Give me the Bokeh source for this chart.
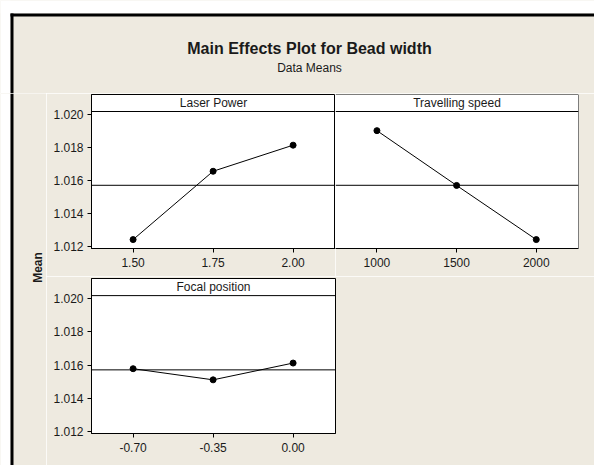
import numpy as np
from bokeh.plotting import figure
from bokeh.models import Range1d, FixedTicker, Span, ColumnDataSource
from bokeh.layouts import column, row
from bokeh.core.properties import value
from bokeh.embed import file_html
from bokeh.resources import INLINE

# ---------------- data ----------------
title_text = "Main Effects Plot for Bead width"
subtitle_text = "Data Means"
y_label = "Mean"
factors = ["Laser Power", "Travelling speed", "Focal position"]
laser_levels = ["1.50", "1.75", "2.00"]
laser_means = [1.01242, 1.01656, 1.01814]
speed_levels = ["1000", "1500", "2000"]
speed_means = [1.01902, 1.01570, 1.01242]
focal_levels = ["-0.70", "-0.35", "0.00"]
focal_means = [1.01578, 1.01511, 1.01612]
grand_mean = 1.01571
y_ticks = [1.012, 1.014, 1.016, 1.018, 1.020]

# ---------------- styling ----------------
BEIGE = "#EEEAE0"
FONT = "Liberation Sans"
TXT = "#1a1a1a"
Y_LO, Y_HI = 1.01188, 1.02121
STRIP_Y = 1.02018
X_LO, X_HI = 0.48, 3.53


def panel(width, height, levels, means, name, show_y, mb_left, mb_right, mb_top, mb_bottom):
    p = figure(width=width, height=height, output_backend="svg", toolbar_location=None,
               x_range=Range1d(X_LO, X_HI), y_range=Range1d(Y_LO, Y_HI),
               y_axis_location="left" if show_y else None,
               min_border_left=mb_left, min_border_right=mb_right,
               min_border_top=mb_top, min_border_bottom=mb_bottom)
    p.background_fill_color = "white"
    p.border_fill_color = BEIGE
    p.outline_line_width = 1
    if show_y:
        p.outline_line_color = "black"
    else:
        # shares its left edge with the neighbouring panel: draw only top and right edges
        p.outline_line_color = None
        p.add_layout(Span(location=Y_HI, dimension="width", line_color="black", line_width=1))
        p.add_layout(Span(location=X_HI, dimension="height", line_color="black", line_width=1))
    p.xgrid.visible = False
    p.ygrid.visible = False
    pos = list(range(1, len(levels) + 1))
    xa = p.xaxis[0]
    xa.ticker = FixedTicker(ticks=pos)
    xa.major_label_overrides = {i: lab for i, lab in zip(pos, levels)}
    xa.minor_tick_line_color = None
    xa.major_tick_in = 0
    xa.major_tick_out = 4
    xa.major_label_standoff = 5
    xa.axis_line_color = "black"
    xa.major_label_text_font = FONT
    xa.major_label_text_font_size = "12px"
    xa.major_label_text_color = TXT
    if show_y:
        ya = p.yaxis[0]
        ya.ticker = FixedTicker(ticks=y_ticks)
        ya.major_label_overrides = {t: f"{t:.3f}" for t in y_ticks}
        ya.minor_tick_line_color = None
        ya.major_tick_in = 0
        ya.major_tick_out = 4
        ya.major_label_standoff = 4
        ya.axis_line_color = "black"
        ya.major_label_text_font = FONT
        ya.major_label_text_font_size = "12px"
        ya.major_label_text_color = TXT
    # strip line and grand mean reference line
    p.add_layout(Span(location=STRIP_Y, dimension="width", line_color="black", line_width=1))
    p.add_layout(Span(location=grand_mean, dimension="width", line_color="black", line_width=1))
    src = ColumnDataSource(dict(x=pos, y=means))
    p.line("x", "y", source=src, line_color="black", line_width=1)
    p.scatter("x", "y", source=src, size=6, color="black")
    p.text(x=[(X_LO + X_HI) / 2], y=[(STRIP_Y + Y_HI) / 2], text=[name],
           text_font=value(FONT), text_font_size="12px", text_color=TXT,
           text_align="center", text_baseline="middle")
    return p


def deco(width, height):
    d = figure(width=width, height=height, output_backend="svg", toolbar_location=None,
               x_range=Range1d(0, width), y_range=Range1d(height, 0),
               x_axis_location=None, y_axis_location=None,
               min_border=0)
    d.xgrid.visible = False
    d.ygrid.visible = False
    d.outline_line_color = None
    d.background_fill_color = BEIGE
    d.border_fill_color = BEIGE
    return d


# header (title area with top border)
HW, HH = 594, 93
header = deco(HW, HH)
header.quad(left=[0, 0, 10, 10], right=[HW, 10, HW, 13], top=[0, 0, 13, 13],
            bottom=[13, HH, 16, HH],
            fill_color=["white", "white", "black", "black"], line_color=None)
header.text(x=[309], y=[48], text=[title_text], text_font=value(FONT),
            text_font_size="16px", text_font_style="bold", text_color=TXT,
            text_align="center", text_baseline="middle")
header.text(x=[309], y=[67], text=[subtitle_text], text_font=value(FONT),
            text_font_size="12px", text_color=TXT,
            text_align="center", text_baseline="middle")

# left strip with left border and the y label
LW, LH = 46, 372
left = deco(LW, LH)
left.quad(left=[0, 10], right=[10, 13], top=[0, 0], bottom=[LH, LH],
          fill_color=["white", "black"], line_color=None)
left.text(x=[37], y=[174], text=[y_label], text_font=value(FONT),
          text_font_size="12px", text_font_style="bold", text_color=TXT,
          text_align="center", text_baseline="middle", angle=np.pi / 2)

p1 = panel(289, 183, laser_levels, laser_means, factors[0], True, 45, 0, 1, 28)
p2 = panel(259, 183, speed_levels, speed_means, factors[1], False, 0, 16, 1, 28)
p3 = panel(548, 189, focal_levels, focal_means, factors[2], True, 45, 259, 2, 32)

layout = column(header, row(left, column(row(p1, p2), p3)))

open("out.html", "w").write(file_html(layout, INLINE))
